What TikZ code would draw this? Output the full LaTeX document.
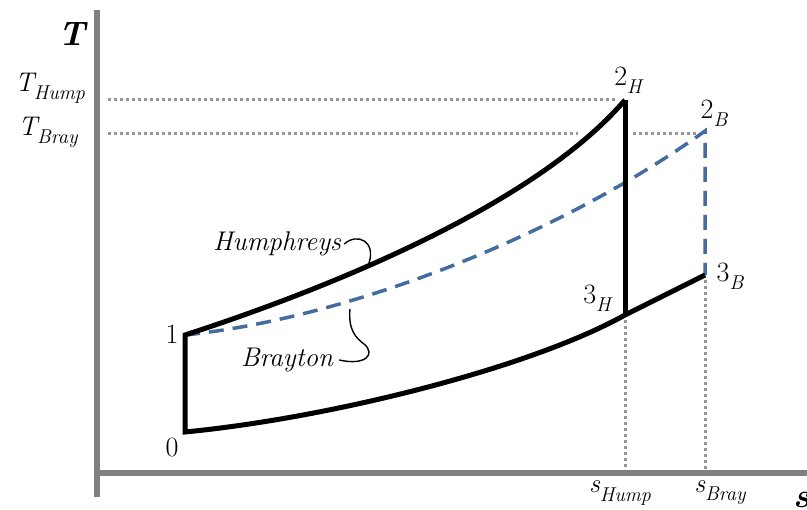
\documentclass[tikz,border=0pt]{standalone}
\definecolor{axisgray}{RGB}{128,128,128}
\definecolor{dotgray}{RGB}{150,150,150}
\definecolor{bblue}{RGB}{68,108,160}
\newcommand\mysub[1]{\raisebox{-0.3em}{\fontsize{20}{24}\selectfont #1}}
\begin{document}
\begin{tikzpicture}[x=1pt,y=-1pt,
  axisline/.style={draw=axisgray,line width=6pt},
  cycleline/.style={draw=black,line width=5pt,line join=miter},
  braytonline/.style={draw=bblue,line width=3.5pt,dash pattern=on 15pt off 9pt},
  guide/.style={draw=dotgray,line width=3pt,dash pattern=on 3pt off 3pt},
  tagline/.style={draw=black,line width=1.4pt},
  lbl/.style={inner sep=0pt,font=\fontsize{27}{30}\selectfont\itshape},
  numlbl/.style={inner sep=0pt,font=\fontsize{28}{30}\selectfont},
  biglbl/.style={inner sep=0pt,font=\fontsize{34}{40}\selectfont\bfseries\itshape}]
\useasboundingbox (0,0) rectangle (807,510);
% key points
\coordinate (p0) at (185,432);
\coordinate (p1) at (185,335);
\coordinate (p2h) at (625,100);
\coordinate (p3h) at (625,315);
\coordinate (p2b) at (705,131);
\coordinate (p3b) at (705,275);
% axes
\coordinate (ytop) at (97,10);
\coordinate (ybot) at (97,497);
\coordinate (xl) at (97,473);
\coordinate (xr) at (810,473);
\draw[axisline] (ytop) -- (ybot);
\draw[axisline] (xl) -- (xr);
% guides
\coordinate (gh) at (108,100);
\coordinate (ghe) at (616,100);
\coordinate (gb) at (108,134);
\coordinate (gbm) at (578,134);
\coordinate (gbn) at (633,134);
\coordinate (gbe) at (699,134);
\coordinate (sh) at (625,320);
\coordinate (shb) at (625,469);
\coordinate (sb) at (705,280);
\coordinate (sbb) at (705,469);
\draw[guide] (gh) -- (ghe);
\draw[guide] (gb) -- (gbm);
\draw[guide] (gbn) -- (gbe);
\draw[guide] (sh) -- (shb);
\draw[guide] (sb) -- (sbb);
% Brayton
\draw[braytonline] (p1) .. controls (350,318) and (560,235) .. (p2b) -- (p3b);
% Humphreys cycle
\draw[cycleline] (p2h) .. controls (535,205) and (330,288) .. (p1) -- (p0)
   .. controls (330,418) and (530,368) .. (p3h) -- (p3b);
\draw[cycleline] (p2h) -- (p3h);
% labels
\node[biglbl] (Tax) at (72,34) {T};
\node[lbl] (TH) at (50,88) {T\mysub{Hump}};
\node[lbl] (TB) at (48,132) {T\mysub{Bray}};
\node[lbl] (sH) at (620,493) {s\mysub{Hump}};
\node[lbl] (sB) at (720,493) {s\mysub{Bray}};
\node[biglbl,anchor=west] (sax) at (793,500) {s};
\node[numlbl] (l2h) at (628,80) {2\mysub{\itshape H}};
\node[numlbl] (l2b) at (714,113) {2\mysub{\itshape B}};
\node[numlbl] (l3b) at (730,276) {3\mysub{\itshape B}};
\node[numlbl] (l3h) at (597,298) {3\mysub{\itshape H}};
\node[numlbl] (l1) at (172,334) {1};
\node[numlbl] (l0) at (172,447) {0};
\node[lbl] (hum) at (277,244) {Humphreys};
\node[lbl] (bray) at (287,360) {Brayton};
% tag connectors
\coordinate (hc) at (369,263);
\coordinate (bc) at (350,309);
\draw[tagline] ([xshift=3pt]hum.east) .. controls (358,232) and (376,242) .. (hc);
\draw[tagline] (bc) .. controls (348,330) and (356,338) .. (364,344)
   .. controls (376,354) and (366,366) .. ([xshift=6pt]bray.east);
\end{tikzpicture}
\end{document}
